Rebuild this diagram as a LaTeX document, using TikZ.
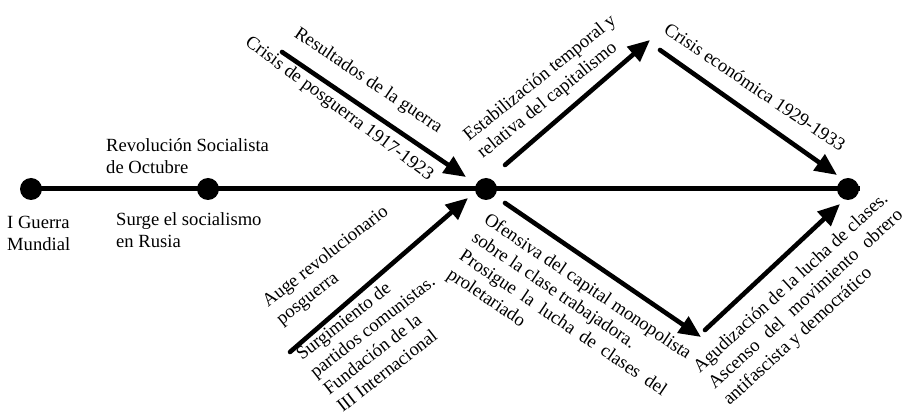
\documentclass[tikz,border=0pt]{standalone}
\usepackage{fontspec}
\usepackage{calc}
\setmainfont{Liberation Serif}
\usetikzlibrary{arrows.meta}
\tikzset{
  dot/.style={circle,fill=black,inner sep=0pt,minimum size=22pt},
  tline/.style={line width=5pt},
  evarrow/.style={line width=4.6pt,line cap=round,-{Triangle[length=22pt,width=19pt]}},
  lbl/.style={inner sep=0pt,align=left,font=\fontsize{18.6}{22}\selectfont},
}
\begin{document}
\begin{tikzpicture}[x=1pt,y=-1pt]
\useasboundingbox[fill=white] (0,0) rectangle (907,419);
% timeline
\node[dot] (d1) at (31,189) {};
\node[dot] (d2) at (208,189) {};
\node[dot] (d3) at (486,189) {};
\node[dot] (d4) at (848,189) {};
\coordinate (tend) at (860,189);
\draw[tline] (d1.center) -- (tend);
% arrow end points
\coordinate (a1s) at (282,52);  \coordinate (a1e) at (466,177);
\coordinate (a2s) at (290,352); \coordinate (a2e) at (468,198);
\coordinate (a3s) at (505,165); \coordinate (a3e) at (650,40);
\coordinate (a4s) at (660,50);  \coordinate (a4e) at (837,175);
\coordinate (a5s) at (505,203); \coordinate (a5e) at (701,337);
\coordinate (a6s) at (705,330); \coordinate (a6e) at (840,204);
\draw[evarrow] (a1s) -- (a1e);
\draw[evarrow] (a2s) -- (a2e);
\draw[evarrow] (a3s) -- (a3e);
\draw[evarrow] (a4s) -- (a4e);
\draw[evarrow] (a5s) -- (a5e);
\draw[evarrow] (a6s) -- (a6e);
% labels (base anchor = baseline of the last line)
\node[lbl,anchor=base west] (tA) at (7,251) {I Guerra\\Mundial};
\node[lbl,anchor=base west] (tB) at (106,174) {Revolución Socialista\\de Octubre};
\node[lbl,anchor=base west] (tC) at (116,247.5) {Surge el socialismo\\en Rusia};
\node[lbl,rotate=-34] (tD) at (368,81) {Resultados de la guerra};
\node[lbl,rotate=-36.5] (tE) at (339,109) {Crisis de posguerra 1917-1923};
\node[lbl,rotate=38,anchor=base west] (tF) at (281.6,325.3) {Auge revolucionario\\posguerra};
\node[lbl,rotate=38,anchor=base west] (tG) at (342.7,413) {Surgimiento de\\partidos comunistas.\\Fundación de la\\III Internacional};
\node[lbl,rotate=-34,anchor=base west] (tH) at (446,277) {Ofensiva del capital monopolista\\sobre la clase trabajadora.\\\makebox[\widthof{Ofensiva del capital monopolista}][s]{Prosigue la lucha de clases del}\\proletariado};
\node[lbl,rotate=39,anchor=base west] (tI) at (482.8,159.1) {Estabilización temporal y\\relativa del capitalismo};
\node[lbl,rotate=-34] (tJ) at (755,87) {Crisis económica 1929-1933};
\node[lbl,rotate=42.5,anchor=base west] (tK) at (729.5,406) {Agudización de la lucha de clases.\\\makebox[\widthof{Agudización de la lucha de clases.}][s]{Ascenso del movimiento obrero}\\antifascista y democrático};
\end{tikzpicture}
\end{document}
